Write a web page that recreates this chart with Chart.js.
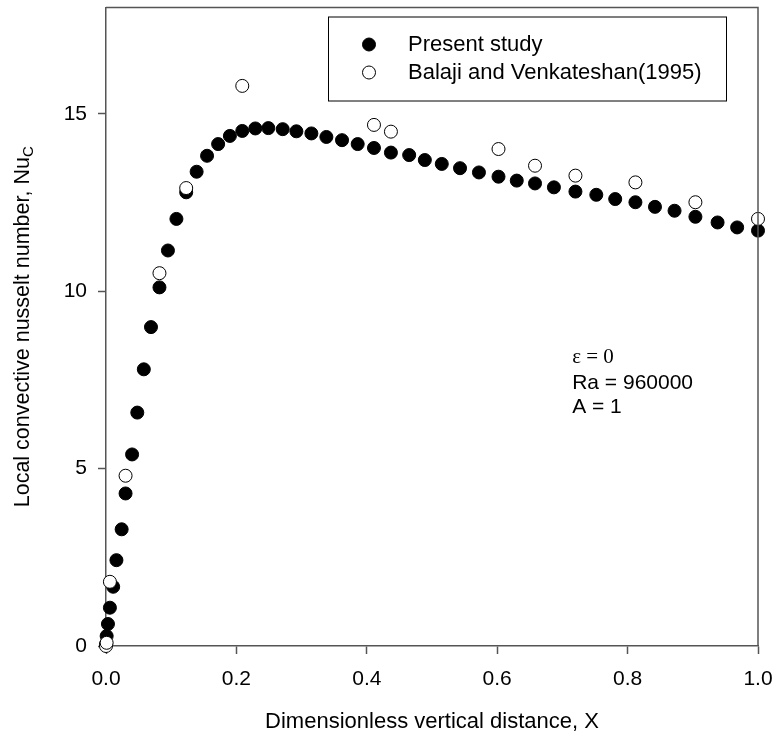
<!DOCTYPE html>
<html>
<head>
<meta charset="utf-8">
<script src="https://cdn.jsdelivr.net/npm/chart.js@4"></script>
<style>
  body { margin: 0; background: #fff; }
</style>
</head>
<body>
<canvas id="chart" width="776" height="738"></canvas>
<script>
// Present study (filled circles)
var xPresent = [0.000, 0.001, 0.003, 0.006, 0.011, 0.016, 0.024, 0.030, 0.040, 0.048,
                0.058, 0.069, 0.082, 0.095, 0.108, 0.123, 0.139, 0.155, 0.172, 0.190,
                0.209, 0.229, 0.249, 0.271, 0.292, 0.315, 0.338, 0.362, 0.386, 0.411,
                0.437, 0.465, 0.489, 0.515, 0.543, 0.572, 0.602, 0.630, 0.658, 0.687,
                0.720, 0.752, 0.781, 0.812, 0.842, 0.872, 0.904, 0.938, 0.968, 1.000];
var yPresent = [0.05, 0.28, 0.62, 1.08, 1.67, 2.42, 3.29, 4.30, 5.40, 6.58,
                7.80, 8.99, 10.11, 11.15, 12.04, 12.79, 13.37, 13.82, 14.15, 14.38,
                14.52, 14.59, 14.60, 14.57, 14.51, 14.45, 14.35, 14.26, 14.15, 14.04,
                13.91, 13.84, 13.70, 13.59, 13.47, 13.35, 13.23, 13.12, 13.04, 12.93,
                12.81, 12.72, 12.60, 12.51, 12.38, 12.27, 12.10, 11.94, 11.80, 11.71];

// Balaji and Venkateshan (open circles)
var xBalaji = [0.000, 0.001, 0.006, 0.030, 0.082, 0.123, 0.209, 0.411, 0.437, 0.602,
               0.658, 0.720, 0.812, 0.904, 1.000];
var yBalaji = [0.00, 0.09, 1.81, 4.80, 10.51, 12.91, 15.79, 14.69, 14.50, 14.01,
               13.54, 13.26, 13.07, 12.51, 12.04];

var xTicks = [0, 0.2, 0.4, 0.6, 0.8, 1.0];
var yTicks = [0, 5, 10, 15];
var seriesNames = ['Present study', 'Balaji and Venkateshan(1995)'];
var notes = ['\u03b5 = 0', 'Ra = 960000', 'A = 1'];

var axisColor = '#555';
var sans = "'Liberation Sans', Arial, sans-serif";

function zip(xs, ys) {
    var out = [];
    for (var i = 0; i < xs.length; i++) out.push({x: xs[i], y: ys[i]});
    return out;
}

// box, legend, y title and the text notes
var extras = {
    id: 'extras',
    afterDraw: function (chart) {
        var ctx = chart.ctx;
        var a = chart.chartArea;
        var xs = chart.scales.x, ys = chart.scales.y;
        ctx.save();

        // top and right frame
        ctx.strokeStyle = axisColor;
        ctx.lineWidth = 1.5;
        ctx.beginPath();
        ctx.moveTo(a.left, a.top);
        ctx.lineTo(a.right, a.top);
        ctx.lineTo(a.right, a.bottom);
        ctx.stroke();

        // legend
        var bx = a.left + 222, by = a.top + 9, bw = 398, bh = 84;
        ctx.strokeStyle = '#000';
        ctx.lineWidth = 1;
        ctx.strokeRect(bx + 0.5, by + 0.5, bw, bh);
        ctx.font = '22px ' + sans;
        ctx.textBaseline = 'middle';
        ctx.textAlign = 'left';
        chart.data.datasets.forEach(function (ds, i) {
            var cy = by + 28 + i * 28;
            ctx.beginPath();
            ctx.arc(bx + 41, cy, 6.5, 0, Math.PI * 2);
            ctx.fillStyle = ds.backgroundColor;
            ctx.fill();
            ctx.strokeStyle = '#000';
            ctx.lineWidth = ds.borderWidth;
            ctx.stroke();
            ctx.fillStyle = '#000';
            ctx.fillText(seriesNames[i], bx + 80, cy);
        });

        // notes
        var nx = xs.getPixelForValue(0.715);
        var ny = ys.getPixelForValue(8.14);
        ctx.font = "21px 'Liberation Serif', 'Times New Roman', serif";
        ctx.fillText(notes[0], nx, ny);
        ctx.font = '21px ' + sans;
        ctx.fillText(notes[1], nx, ny + 26);
        ctx.fillText(notes[2], nx, ny + 50);

        // y axis title with subscript
        var main = 'Local convective nusselt number, Nu';
        ctx.font = '21.5px ' + sans;
        var w1 = ctx.measureText(main).width;
        ctx.font = '15px ' + sans;
        var w2 = ctx.measureText('C').width;
        ctx.translate(23, (a.top + a.bottom) / 2);
        ctx.rotate(-Math.PI / 2);
        ctx.textAlign = 'left';
        ctx.textBaseline = 'alphabetic';
        ctx.font = '21.5px ' + sans;
        var start = -(w1 + w2) / 2;
        ctx.fillText(main, start, 6);
        ctx.font = '15px ' + sans;
        ctx.fillText('C', start + w1, 10);
        ctx.restore();
    }
};

var chart = new Chart(document.getElementById('chart').getContext('2d'), {
    type: 'scatter',
    data: {
        datasets: [{
            label: seriesNames[0],
            data: zip(xPresent, yPresent),
            backgroundColor: '#000',
            borderColor: '#000',
            borderWidth: 1,
            pointRadius: 6.5,
            order: 1,
            clip: false
        }, {
            label: seriesNames[1],
            data: zip(xBalaji, yBalaji),
            backgroundColor: '#fff',
            borderColor: '#000',
            borderWidth: 1,
            pointRadius: 6.5,
            order: 0,
            clip: false
        }]
    },
    options: {
        responsive: false,
        animation: false,
        layout: {padding: {left: 0, top: 7, right: 18, bottom: 0}},
        plugins: {
            legend: {display: false},
            tooltip: {enabled: false}
        },
        scales: {
            x: {
                type: 'linear',
                min: 0,
                max: 1,
                afterBuildTicks: function (s) { s.ticks = xTicks.map(function (v) { return {value: v}; }); },
                afterFit: function (s) { s.height = 92; s.paddingLeft = 0; s.paddingRight = 0; },
                border: {display: true, color: axisColor, width: 1.5},
                grid: {drawOnChartArea: false, drawTicks: true, tickLength: 8, tickWidth: 1.5, tickColor: axisColor},
                ticks: {
                    color: '#000',
                    padding: 13,
                    maxRotation: 0,
                    font: {family: sans, size: 21},
                    callback: function (v) { return Number(v).toFixed(1); }
                },
                title: {
                    display: true,
                    text: 'Dimensionless vertical distance, X',
                    color: '#000',
                    font: {family: sans, size: 22},
                    padding: {top: 4, bottom: 3}
                }
            },
            y: {
                type: 'linear',
                min: 0,
                max: 18,
                afterBuildTicks: function (s) { s.ticks = yTicks.map(function (v) { return {value: v}; }); },
                afterFit: function (s) { s.width = 106; s.paddingTop = 0; s.paddingBottom = 0; },
                border: {display: true, color: axisColor, width: 1.5},
                grid: {drawOnChartArea: false, drawTicks: true, tickLength: 8, tickWidth: 1.5, tickColor: axisColor},
                ticks: {
                    color: '#000',
                    padding: 11,
                    font: {family: sans, size: 21}
                }
            }
        }
    },
    plugins: [extras]
});
</script>
</body>
</html>
